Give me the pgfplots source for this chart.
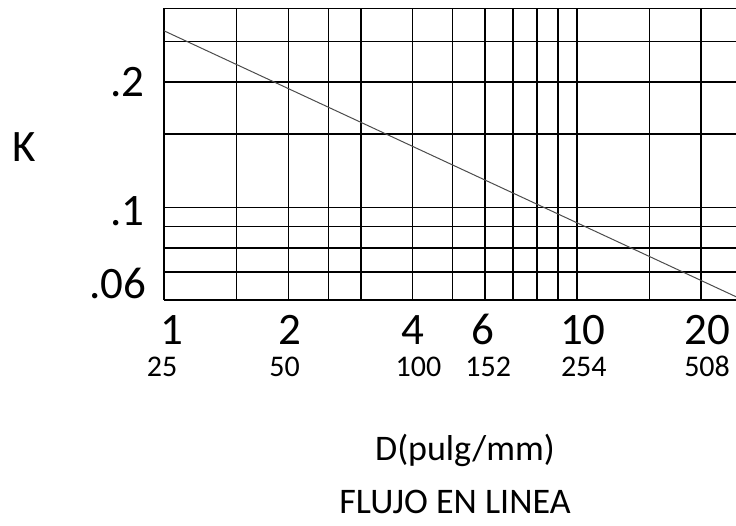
\documentclass[border=0pt]{standalone}
\usepackage{pgfplots}
\pgfplotsset{compat=1.18}
\usepackage{fontspec}
\setmainfont{Carlito}

\tikzset{
  big/.style={font=\fontsize{45}{54}\selectfont, inner sep=0pt},
  small/.style={font=\fontsize{30}{36}\selectfont, inner sep=0pt},
  labeltext/.style={font=\fontsize{36}{43}\selectfont, inner sep=0pt},
}

\begin{document}
\begin{tikzpicture}
\useasboundingbox (-164pt,-226pt) rectangle (572pt,300pt);
\begin{axis}[
    scale only axis,
    width=572pt, height=291.7pt,
    xmode=log, ymode=log,
    xmin=1, xmax=24.3,
    ymin=0.06, ymax=0.3,
    axis x line=box, axis y line=left,
    axis line style={-, black, line width=1.5pt},
    xtick={2,4,6,10,20},
    minor xtick={1.5,2.5,3,5,7,8,9,15},
    ytick={0.1,0.2},
    minor ytick={0.07,0.08,0.09,0.15,0.25},
    xticklabel={\mbox{}}, yticklabel={\mbox{}},
    major tick length=0pt, minor tick length=0pt,
    grid=both,
    major grid style={black, line width=1.5pt},
    minor grid style={black, line width=1.5pt},
    clip=false,
  ]

  % K against D
  \addplot[black!70, line width=1pt] coordinates {(1,0.265) (10,0.0919) (24.3,0.0611)};

  % x labels: inches, then mm
  \node[big, anchor=base, xshift=7.7pt, yshift=-44pt] at (axis cs:1,0.06) {1};
  \node[big, anchor=base, xshift=1.5pt, yshift=-44pt] at (axis cs:2,0.06) {2};
  \node[big, anchor=base, xshift=0pt,   yshift=-44pt] at (axis cs:4,0.06) {4};
  \node[big, anchor=base, xshift=-2pt,  yshift=-44pt] at (axis cs:6,0.06) {6};
  \node[big, anchor=base, xshift=6pt,   yshift=-44pt] at (axis cs:10,0.06) {10};
  \node[big, anchor=base, xshift=6pt,   yshift=-44pt] at (axis cs:20,0.06) {20};

  \node[small, anchor=base, xshift=-2pt,   yshift=-76.7pt] at (axis cs:1,0.06) {25};
  \node[small, anchor=base, xshift=-3.6pt, yshift=-76.7pt] at (axis cs:2,0.06) {50};
  \node[small, anchor=base, xshift=6pt,    yshift=-76.7pt] at (axis cs:4,0.06) {100};
  \node[small, anchor=base, xshift=3pt,    yshift=-76.7pt] at (axis cs:6,0.06) {152};
  \node[small, anchor=base, xshift=7pt,    yshift=-76.7pt] at (axis cs:10,0.06) {254};
  \node[small, anchor=base, xshift=6pt,    yshift=-76.7pt] at (axis cs:20,0.06) {508};

  % y labels
  \node[big, anchor=east, xshift=-19pt] at (axis cs:1,0.2) {.2};
  \node[big, anchor=east, xshift=-19pt, yshift=-3.6pt] at (axis cs:1,0.1) {.1};
  \node[big, anchor=east, xshift=-17.3pt] at (axis cs:1,0.0658) {.06};

  \node[big, anchor=center, xshift=-140pt, yshift=153pt] at (rel axis cs:0,0) {K};

  \node[labeltext, anchor=base, xshift=301pt, yshift=-160pt] at (rel axis cs:0,0) {D(pulg/mm)};
  \node[labeltext, anchor=base, xshift=291pt, yshift=-213pt] at (rel axis cs:0,0) {FLUJO EN LINEA};
\end{axis}
\end{tikzpicture}
\end{document}
